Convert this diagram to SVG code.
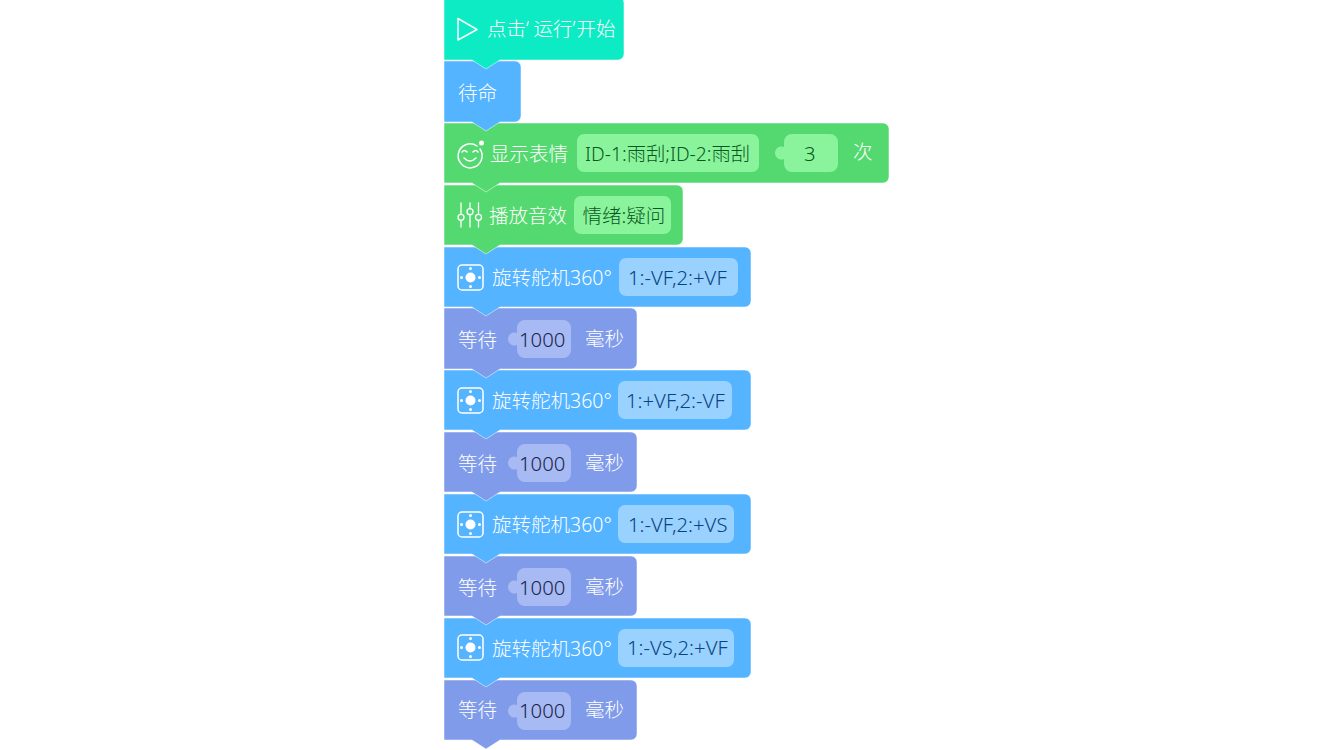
<svg xmlns="http://www.w3.org/2000/svg" width="1334" height="750" viewBox="0 0 1334 750">
<style>
text{font-family:"Noto Sans","Noto Sans CJK SC",sans-serif;font-size:19.5px;font-weight:300}
.l{fill:#fff}
.n{font-size:20.3px}
.b{stroke:#fff;stroke-opacity:.5;stroke-width:1}
.teal{fill:#0debc4}.blue{fill:#54b4ff}.green{fill:#54d970}.pur{fill:#7f9bea}
.pg{fill:#8af49c}.pb{fill:#99d1ff}.pp{fill:#a8baf3}
.tg{fill:#0b5723}.tb{fill:#0a4480}.tp{fill:#18234a}
.ic{fill:none;stroke:#fff;stroke-width:1.5;stroke-linecap:round;stroke-linejoin:round}
.id{fill:#fff}
</style>
<defs>
<g id="servo"><rect x="458" y="-13" width="25" height="25" rx="4" class="ic"/><circle cx="470.500" cy="-0.500" r="5" class="id"/><circle cx="461.500" cy="-0.500" r="1.500" class="id"/><circle cx="479.500" cy="-0.500" r="1.500" class="id"/><circle cx="470.500" cy="-9.500" r="1.500" class="id"/><circle cx="470.500" cy="8.500" r="1.500" class="id"/></g>
<path id="slot" d="M525 -19H563a8 8 0 0 1 8 8V11a8 8 0 0 1 -8 8H525a8 8 0 0 1 -8 -8V6a6.500 6.500 0 1 1 0 -12V-11a8 8 0 0 1 8 -8Z"/>
</defs>
<g id="n12"><path class="b pur" d="M444 680H631a6 6 0 0 1 6 6V734a6 6 0 0 1 -6 6H500L486 749L472 740H444Z"/><text class="l" x="458" y="717">等待</text><use href="#slot" class="pp" y="711"/><text class="tp n" x="519" y="718">1000</text><text class="l" x="585" y="717">毫秒</text></g>
<g id="n11"><path class="b blue" d="M444 618H745a6 6 0 0 1 6 6V672a6 6 0 0 1 -6 6H500L486 687L472 678H444Z"/><use href="#servo" y="648"/><text class="l" x="492" y="656">旋转舵机360°</text><rect class="pb" x="618" y="629" width="116" height="38" rx="7"/><text class="tb n" x="627" y="655">1:-VS,2:+VF</text></g>
<g id="n10"><path class="b pur" d="M444 556H631a6 6 0 0 1 6 6V610a6 6 0 0 1 -6 6H500L486 625L472 616H444Z"/><text class="l" x="458" y="595">等待</text><use href="#slot" class="pp" y="587"/><text class="tp n" x="519" y="595">1000</text><text class="l" x="585" y="594">毫秒</text></g>
<g id="n9"><path class="b blue" d="M444 494H745a6 6 0 0 1 6 6V548a6 6 0 0 1 -6 6H500L486 563L472 554H444Z"/><use href="#servo" y="525"/><text class="l" x="492" y="532">旋转舵机360°</text><rect class="pb" x="618" y="505" width="116" height="38" rx="7"/><text class="tb n" x="628" y="532">1:-VF,2:+VS</text></g>
<g id="n8"><path class="b pur" d="M444 432H631a6 6 0 0 1 6 6V486a6 6 0 0 1 -6 6H500L486 501L472 492H444Z"/><text class="l" x="458" y="471">等待</text><use href="#slot" class="pp" y="463"/><text class="tp n" x="519" y="471">1000</text><text class="l" x="585" y="470">毫秒</text></g>
<g id="n7"><path class="b blue" d="M444 370H745a6 6 0 0 1 6 6V424a6 6 0 0 1 -6 6H500L486 439L472 430H444Z"/><use href="#servo" y="401"/><text class="l" x="492" y="408">旋转舵机360°</text><rect class="pb" x="618" y="381" width="114" height="38" rx="7"/><text class="tb n" x="626" y="408">1:+VF,2:-VF</text></g>
<g id="n6"><path class="b pur" d="M444 308H631a6 6 0 0 1 6 6V363a6 6 0 0 1 -6 6H500L486 378L472 369H444Z"/><text class="l" x="458" y="347">等待</text><use href="#slot" class="pp" y="339"/><text class="tp n" x="519" y="347">1000</text><text class="l" x="585" y="346">毫秒</text></g>
<g id="n5"><path class="b blue" d="M444 247H745a6 6 0 0 1 6 6V301a6 6 0 0 1 -6 6H500L486 316L472 307H444Z"/><use href="#servo" y="278"/><text class="l" x="492" y="285">旋转舵机360°</text><rect class="pb" x="619" y="258" width="119" height="38" rx="7"/><text class="tb n" x="628" y="285">1:-VF,2:+VF</text></g>
<g id="n4"><path class="b green" d="M444 185H677a6 6 0 0 1 6 6V239a6 6 0 0 1 -6 6H500L486 254L472 245H444Z"/><g class="ic" style="stroke-width:1.3"><path d="M461 203V214M461 220.500V227M470 203V208.500M470 215V227M478.500 203V214M478.500 220.500V227"/><circle cx="461" cy="217.300" r="3"/><circle cx="470" cy="211.700" r="3"/><circle cx="478.500" cy="217.300" r="3"/></g><text class="l" x="489" y="223">播放音效</text><rect class="pg" x="574" y="196" width="97" height="38" rx="7"/><text class="tg" x="582.500" y="223">情绪:疑问</text></g>
<g id="n3"><path class="b green" d="M444 123H883a6 6 0 0 1 6 6V177a6 6 0 0 1 -6 6H500L486 192L472 183H444Z"/><g class="ic"><path d="M477 146a12 12 0 1 0 3 3"/><path d="M462 152q2.500 -3 5 0M473 152q2.500 -3 5 0M464 158q6 6 12 0"/></g><circle cx="481.500" cy="143" r="2.500" class="id"/><text class="l" x="490" y="161">显示表情</text><rect class="pg" x="577" y="134" width="182" height="38" rx="7"/><text class="tg" x="585" y="161" style="font-size:19.3px">ID-1:雨刮;ID-2:雨刮</text><path class="pg" d="M792 134H830a8 8 0 0 1 8 8V164a8 8 0 0 1 -8 8H792a8 8 0 0 1 -8 -8V159a6.500 6.500 0 1 1 0 -12V142a8 8 0 0 1 8 -8Z"/><text class="tg n" x="804" y="161">3</text><text class="l" x="853" y="159">次</text></g>
<g id="n2"><path class="b blue" d="M444 61H515a6 6 0 0 1 6 6V116a6 6 0 0 1 -6 6H500L486 131L472 122H444Z"/><text class="l" x="458" y="100">待命</text></g>
<g id="n1"><path class="b teal" d="M444 -3H618a6 6 0 0 1 6 6V54a6 6 0 0 1 -6 6H500L486 69L472 60H444Z"/><path class="ic" d="M458 18.500V40L477 29.500Z"/><text class="l" x="487" y="36">点击<tspan x="526">‘</tspan><tspan x="533.500">运行</tspan><tspan x="572.500">’</tspan><tspan x="576.500">开始</tspan></text></g>
</svg>
